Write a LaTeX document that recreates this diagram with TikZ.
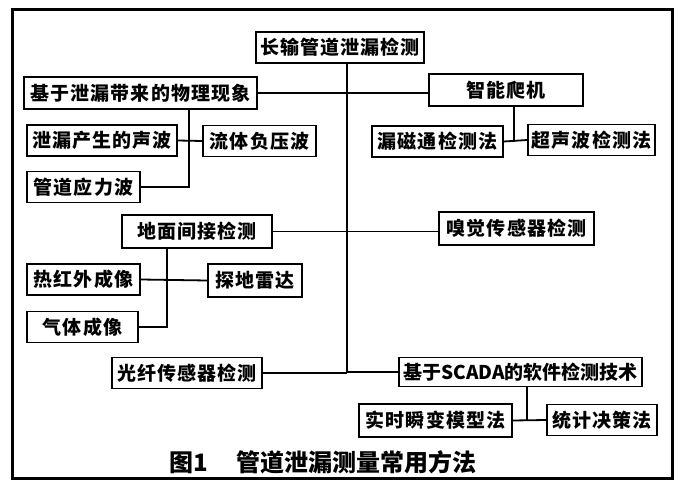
\documentclass[tikz,border=0pt]{standalone}
\usepackage{fontspec}
\setmainfont{Noto Sans CJK SC}
\newfontfamily\boxfont{Noto Sans CJK SC}[LetterSpace=6]
\begin{document}
\begin{tikzpicture}[x=1pt,y=-1pt,
  box/.style={draw,line width=1.7pt,inner sep=0pt,minimum height=31pt,font=\boxfont\fontsize{19}{19}\selectfont\bfseries},
  link/.style={line width=1.8pt}]

  \useasboundingbox (0,0) rectangle (694,487);
  \draw[line width=3pt] (12,10) rectangle (672,478);

  \node[box,minimum width=168pt] (title) at (340,47.5) {长输管道泄漏检测};
  \node[box,minimum width=233pt,minimum height=32pt] (phys) at (140.5,93) {基于泄漏带来的物理现象};
  \node[box,minimum width=154pt,minimum height=32pt] (robot) at (506,90) {智能爬机};
  \node[box,minimum width=150pt] (acoustic) at (102,140.5) {泄漏产生的声波};
  \node[box,minimum width=113pt] (negpress) at (259.5,141) {流体负压波};
  \node[box,minimum width=113pt] (stress) at (83.5,187) {管道应力波};
  \node[box,minimum width=131pt] (mfl) at (437.5,141.5) {漏磁通检测法};
  \node[box,minimum width=127pt] (ultra) at (591.5,140) {超声波检测法};
  \node[box,minimum width=150pt,minimum height=33pt] (ground) at (197,231.5) {地面间接检测};
  \node[box,minimum width=155pt,minimum height=33pt] (smell) at (516.5,228.5) {嗅觉传感器检测};
  \node[box,minimum width=113pt] (thermal) at (83.5,279.5) {热红外成像};
  \node[box,minimum width=94pt,minimum height=33pt] (radar) at (255,280.5) {探地雷达};
  \node[box,minimum width=111pt] (gas) at (82.5,327) {气体成像};
  \node[box,minimum width=150pt] (fiber) at (187,373) {光纤传感器检测};
  \node[box,minimum width=243pt,minimum height=29pt,font=\fontsize{19}{19}\selectfont\bfseries] (scada) at (520.5,372) {基于SCADA的软件检测技术};
  \node[box,minimum width=153pt,minimum height=33pt] (realtime) at (435.5,420.5) {实时瞬变模型法};
  \node[box,minimum width=110pt] (stat) at (602,420) {统计决策法};

  \node[font=\fontsize{24}{24}\selectfont\bfseries] (caption) at (323,462) {图1\hspace{1.2em}管道泄漏测量常用方法};

  % trunk and its branches
  \coordinate (trunk) at (347,0);
  \draw[link] (title.south -| trunk) -- (trunk |- fiber.east);
  \draw[link] (phys.east) -- (phys.east -| robot.west);
  \draw[link] (ground.east) -- (ground.east -| smell.west);
  \draw[link] (fiber.east) -- (fiber.east -| trunk);
  \draw[link] (scada.west) -- (scada.west -| trunk);

  % physical phenomena
  \coordinate (physdrop) at (189,0);
  \draw[link] (phys.south -| physdrop) |- (stress.east);
  \draw[link] (acoustic.east) -- (negpress.west);

  % pig
  \coordinate (robotdrop) at (514,0);
  \draw[link] (robot.south -| robotdrop) -- (robotdrop |- mfl.east);
  \draw[link] (mfl.east) -- (ultra.west);

  % ground
  \coordinate (grounddrop) at (167,0);
  \draw[link] (ground.south -| grounddrop) |- (gas.east);
  \draw[link] (thermal.east) -- (radar.west);

  % SCADA
  \coordinate (scadadrop) at (527,0);
  \draw[link] (scada.south -| scadadrop) -- (scadadrop |- realtime.east);
  \draw[link] (realtime.east) -- (stat.west);

\end{tikzpicture}
\end{document}
